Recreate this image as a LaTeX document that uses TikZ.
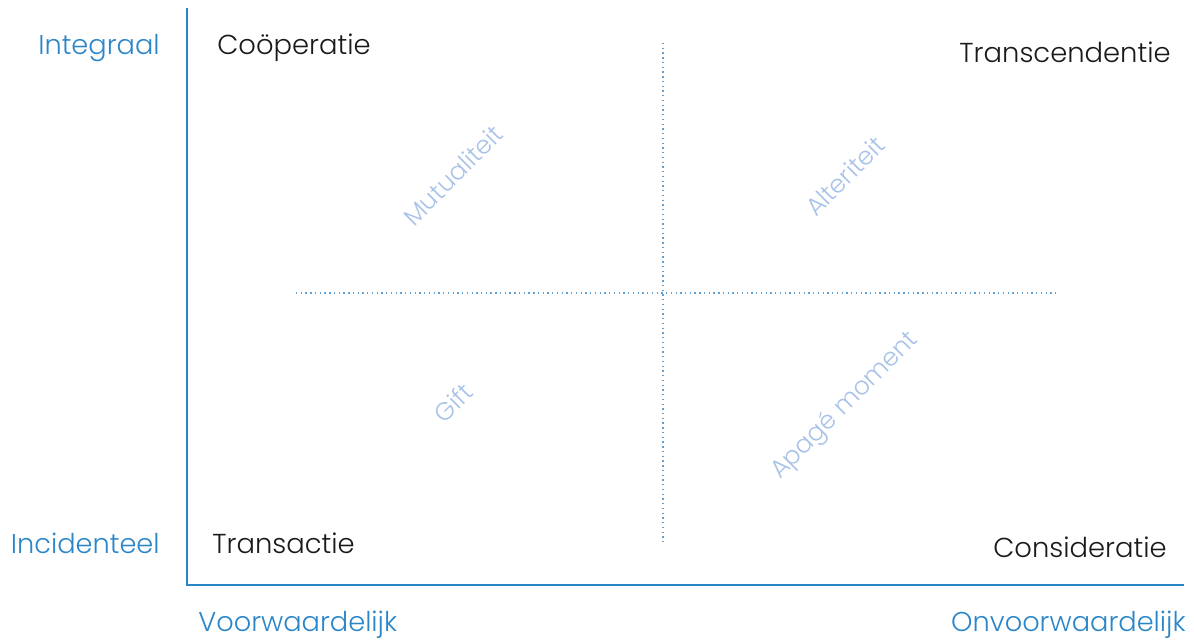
\documentclass[tikz,border=0pt]{standalone}
\usepackage{fontspec}
\setmainfont{Poppins}[UprightFont=* Light]
\definecolor{axisblue}{HTML}{2B86C9}
\definecolor{dotblue}{HTML}{5CA0D6}
\definecolor{softblue}{HTML}{A8C2E8}
\definecolor{ink}{HTML}{1A1A1A}
\tikzset{
  axisline/.style={draw=axisblue, line width=0.85pt},
  gridline/.style={draw=dotblue, line width=0.75pt, dash pattern=on 0.75pt off 1.95pt},
  corner/.style={text=ink, font=\fontsize{15.6}{18}\selectfont, inner sep=0pt},
  scale label/.style={text=axisblue, font=\fontsize{15.5}{18}\selectfont, inner sep=0pt},
  diag/.style={text=softblue, font=\fontsize{14.2}{16}\selectfont, inner sep=0pt, rotate=45}
}
\begin{document}
\begin{tikzpicture}[x=0.02cm, y=-0.02cm]
  \useasboundingbox (0,0) rectangle (1194,641);

  % axes
  \coordinate (top) at (187,8);
  \coordinate (origin) at (187,585);
  \coordinate (right) at (1184,585);
  \draw[axisline] (top) -- (origin) -- (right);

  % dotted quadrant dividers
  \coordinate (vtop) at (663,43);
  \coordinate (vbot) at (663,543);
  \coordinate (hleft) at (296,293);
  \coordinate (hright) at (1058,293);
  \draw[gridline] (vtop) -- (vbot);
  \draw[gridline] (hleft) -- (hright);

  % axis labels
  \node[scale label, anchor=east] (integraal) at (160,48) {Integraal};
  \node[scale label, anchor=east] (incidenteel) at (160,543) {Incidenteel};
  \node[scale label, anchor=west] (voorw) at (198,625) {Voorwaardelijk};
  \node[scale label, anchor=east] (onvoorw) at (1186,625) {Onvoorwaardelijk};

  % quadrant corners
  \node[corner, anchor=west] (coop) at (217,48) {Coöperatie};
  \node[corner, anchor=east] (trans) at (1171,52) {Transcendentie};
  \node[corner, anchor=west] (transactie) at (212,543) {Transactie};
  \node[corner, anchor=east] (consid) at (1167,547) {Consideratie};

  % diagonal quadrant names
  \node[diag] (mutual) at (453,175) {Mutualiteit};
  \node[diag] (alter) at (845,176) {Alteriteit};
  \node[diag] (gift) at (453,403) {Gift};
  \node[diag] (apage) at (845,406) {Apagé moment};
\end{tikzpicture}
\end{document}
